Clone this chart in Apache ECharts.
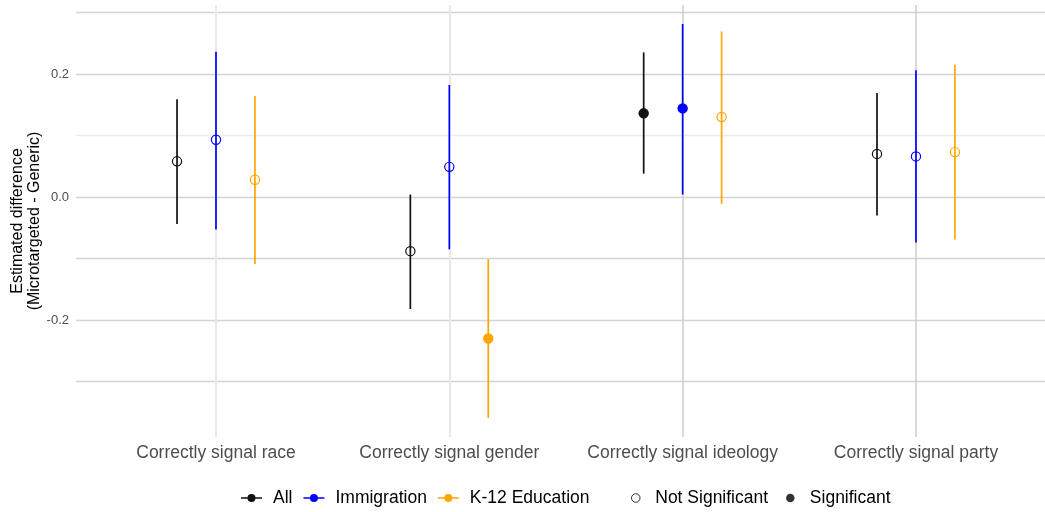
<!DOCTYPE html>
<html>
<head>
<meta charset="utf-8">
<script src="https://cdn.jsdelivr.net/npm/echarts@6/dist/echarts.min.js"></script>
<style>html,body{margin:0;padding:0;background:#fff}#chart{width:1045px;height:512px}</style>
</head>
<body>
<div id="chart"></div>
<script>
// ---- data ----
const categories = ["Correctly signal race", "Correctly signal gender", "Correctly signal ideology", "Correctly signal party"];
const groups = ["All", "Immigration", "K-12 Education"];

const allEst = [0.058, -0.088, 0.136, 0.070];
const allLo  = [-0.044, -0.182, 0.038, -0.030];
const allHi  = [0.159, 0.004, 0.235, 0.169];
const allSig = [0, 0, 1, 0];

const immEst = [0.093, 0.049, 0.144, 0.066];
const immLo  = [-0.053, -0.085, 0.004, -0.074];
const immHi  = [0.236, 0.182, 0.281, 0.206];
const immSig = [0, 0, 1, 0];

const eduEst = [0.028, -0.230, 0.130, 0.073];
const eduLo  = [-0.109, -0.359, -0.011, -0.069];
const eduHi  = [0.164, -0.101, 0.269, 0.215];
const eduSig = [0, 1, 0, 0];

const yTickLabels = [-0.2, 0.0, 0.2];
const yGridValues = [-0.3, -0.2, -0.1, 0.0, 0.1, 0.2, 0.3];
const yTitle = 'Estimated difference\n(Microtargeted - Generic)';

// ---- styling ----
const FONT = '"Liberation Sans", Arial, Helvetica, sans-serif';
const colors = ["#111111", "#0000ff", "#ffa500"];
const dodge = [-0.167, 0, 0.167];

function build(est, lo, hi, sig, off) {
  return categories.map((c, i) => [i + 1 + off, est[i], lo[i], hi[i], sig[i]]);
}
const groupData = [
  build(allEst, allLo, allHi, allSig, dodge[0]),
  build(immEst, immLo, immHi, immSig, dodge[1]),
  build(eduEst, eduLo, eduHi, eduSig, dodge[2])
];

function makeRender(color) {
  return function (params, api) {
    const x = api.value(0), est = api.value(1), lo = api.value(2), hi = api.value(3), sig = api.value(4);
    const pLo = api.coord([x, lo]), pHi = api.coord([x, hi]), pE = api.coord([x, est]);
    return {
      type: 'group',
      children: [
        { type: 'line', shape: { x1: pLo[0], y1: pLo[1], x2: pHi[0], y2: pHi[1] }, style: { stroke: color, lineWidth: 1.7 } },
        { type: 'circle', shape: { cx: pE[0], cy: pE[1], r: sig ? 5.2 : 4.6 },
          style: sig ? { fill: color, stroke: null } : { fill: 'none', stroke: color, lineWidth: 1.2 } }
      ]
    };
  };
}

const lineIcon = 'path://M0,4.2 L21,4.2 L21,5.8 L0,5.8 Z M10.5,1 A4,4 0 1 1 10.49,1 Z';

const hLines = yGridValues.map(v => ({
  yAxis: v,
  lineStyle: { color: Math.abs(v - 0.1) < 1e-9 ? '#ececec' : '#d4d4d4', width: 1.3, type: 'solid' }
}));
const vLines = categories.map((c, i) => ({
  xAxis: i + 1,
  lineStyle: { color: i < 2 ? '#e8e8e8' : '#cccccc', width: i < 2 ? 2 : 1.5, type: 'solid' }
}));

const series = [
  {
    name: 'grid', type: 'scatter', data: [], silent: true, z: 0,
    markLine: { silent: true, symbol: 'none', label: { show: false }, animation: false, data: hLines.concat(vLines) }
  }
];
groups.forEach((g, k) => {
  series.push({
    name: g, type: 'custom', renderItem: makeRender(colors[k]),
    itemStyle: { color: colors[k] }, data: groupData[k], z: 5 + k, animation: false,
    encode: { x: 0, y: [1, 2, 3] }
  });
});
series.push({ name: 'Not Significant', type: 'scatter', data: [], itemStyle: { color: 'none', borderColor: '#000', borderWidth: 1 } });
series.push({ name: 'Significant', type: 'scatter', data: [], itemStyle: { color: '#000' } });

const chart = echarts.init(document.getElementById('chart'), null, { renderer: 'canvas' });
chart.setOption({
  animation: false,
  backgroundColor: '#ffffff',
  textStyle: { fontFamily: FONT },
  grid: { left: 76, right: 0, top: 5, bottom: 75, containLabel: false, outerBoundsMode: 'none' },
  xAxis: {
    type: 'value', min: 0.4, max: 4.553,
    axisLine: { show: false }, axisTick: { show: false }, splitLine: { show: false },
    axisLabel: {
      customValues: [1, 2, 3, 4],
      formatter: v => categories[Math.round(v) - 1] || '',
      color: '#4d4d4d', fontSize: 17.5, fontFamily: FONT, margin: 7
    }
  },
  yAxis: {
    type: 'value', min: -0.39, max: 0.312,
    axisLine: { show: false }, axisTick: { show: false }, splitLine: { show: false },
    axisLabel: {
      customValues: yTickLabels,
      formatter: v => v.toFixed(1),
      color: '#4d4d4d', fontSize: 13, fontFamily: FONT, margin: 7
    }
  },
  graphic: [
    {
      type: 'text', x: 26, y: 221, rotation: Math.PI / 2, silent: true,
      style: {
        text: yTitle, fill: '#000', fontSize: 16, fontFamily: FONT, lineHeight: 17.5,
        align: 'center', verticalAlign: 'middle'
      }
    }
  ],
  legend: [
    {
      data: groups.map(g => ({ name: g, icon: lineIcon })),
      left: 241, top: 489, orient: 'horizontal', padding: 0,
      itemWidth: 21, itemHeight: 8, itemGap: 11, selectedMode: false,
      textStyle: { fontSize: 17.5, color: '#000', fontFamily: FONT, padding: [0, 0, 0, 6] }
    },
    {
      data: [
        { name: 'Not Significant', icon: 'circle', itemStyle: { color: 'none', borderColor: '#000', borderWidth: 1 } },
        { name: 'Significant', icon: 'circle', itemStyle: { color: '#000' } }
      ],
      left: 629, top: 489, orient: 'horizontal', padding: 0,
      itemWidth: 17, itemHeight: 8.5, itemGap: 18, selectedMode: false,
      textStyle: { fontSize: 17.5, color: '#000', fontFamily: FONT, padding: [0, 0, 0, 6] }
    }
  ],
  series: series
});
</script>
</body>
</html>
